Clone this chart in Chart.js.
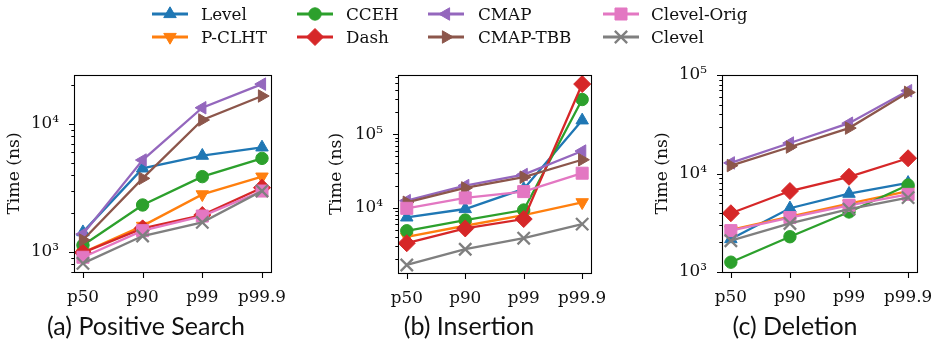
<!DOCTYPE html>
<html>
<head>
<meta charset="utf-8">
<script src="https://cdn.jsdelivr.net/npm/chart.js@4.4.1/dist/chart.umd.min.js"></script>
<style>
  html, body { margin:0; padding:0; background:#fff; }
  body { width:941px; height:347px; position:relative; overflow:hidden; }
  canvas.panel { position:absolute; top:0; }
  .cap { position:absolute; top:310px; font-family:Lato, "Open Sans", sans-serif; font-size:25px; line-height:30px; color:#111; white-space:nowrap; transform:translateX(-50%); }
  .lg { position:absolute; font-family:"DejaVu Serif", serif; font-size:16.8px; line-height:20px; color:#111; white-space:nowrap; }
  canvas.mk { position:absolute; }
</style>
</head>
<body>
<canvas id="c1" class="panel" width="295" height="347" style="left:0px"></canvas>
<canvas id="c2" class="panel" width="310" height="347" style="left:305px"></canvas>
<canvas id="c3" class="panel" width="321" height="347" style="left:620px"></canvas>
<div class="cap" style="left:146px">(a) Positive Search</div>
<div class="cap" style="left:469px">(b) Insertion</div>
<div class="cap" style="left:795px">(c) Deletion</div>
<div id="legend"></div>
<script>
// ---------- data ----------
const categories = ['p50', 'p90', 'p99', 'p99.9'];
const seriesNames = ['Level', 'P-CLHT', 'CCEH', 'Dash', 'CMAP', 'CMAP-TBB', 'Clevel-Orig', 'Clevel'];
const panelTitles = ['(a) Positive Search', '(b) Insertion', '(c) Deletion'];
const yAxisTitle = 'Time (ns)';

// (a) Positive Search
const searchLevel      = [1430, 4500, 5660, 6570];
const searchPCLHT      = [990, 1600, 2820, 3880];
const searchCCEH       = [1130, 2330, 3880, 5390];
const searchDash       = [990, 1530, 1945, 3180];
const searchCMAP       = [1380, 5230, 13400, 20500];
const searchCMAPTBB    = [1240, 3760, 10750, 16550];
const searchClevelOrig = [910, 1468, 1910, 2995];
const searchClevel     = [815, 1333, 1705, 3000];

// (b) Insertion
const insertLevel      = [7370, 9590, 18000, 155000];
const insertPCLHT      = [4010, 5670, 7930, 11830];
const insertCCEH       = [4840, 6780, 9290, 298000];
const insertDash       = [3280, 5210, 7000, 484000];
const insertCMAP       = [12470, 20000, 28300, 59100];
const insertCMAPTBB    = [11830, 18600, 26000, 45000];
const insertClevelOrig = [9800, 13560, 16560, 29500];
const insertClevel     = [1656, 2715, 3840, 5970];

// (c) Deletion
const deleteLevel      = [2160, 4440, 6240, 8050];
const deletePCLHT      = [2680, 3650, 4940, 6640];
const deleteCCEH       = [1258, 2280, 4070, 7630];
const deleteDash       = [3950, 6640, 9260, 14280];
const deleteCMAP       = [12810, 20400, 32400, 69200];
const deleteCMAPTBB    = [12040, 18570, 28900, 66600];
const deleteClevelOrig = [2630, 3570, 4760, 6140];
const deleteClevel     = [2080, 3110, 4340, 5690];

// ---------- styles ----------
const colors = ['#1f77b4', '#ff7f0e', '#2ca02c', '#d62728', '#9467bd', '#8c564b', '#e377c2', '#7f7f7f'];
const markers = [
  {pointStyle:'triangle', rotation:0,   radius:7.2, borderWidth:1},
  {pointStyle:'triangle', rotation:180, radius:7.2, borderWidth:1},
  {pointStyle:'circle',   rotation:0,   radius:6.2, borderWidth:1},
  {pointStyle:'rectRot',  rotation:0,   radius:8.5, borderWidth:1},
  {pointStyle:'triangle', rotation:270, radius:7.2, borderWidth:1},
  {pointStyle:'triangle', rotation:90,  radius:7.2, borderWidth:1},
  {pointStyle:'rect',     rotation:0,   radius:8.5, borderWidth:1},
  {pointStyle:'crossRot', rotation:0,   radius:8.7, borderWidth:2.3}
];
const LINE_W = 2.3;
const SUP = {'0':'⁰','1':'¹','2':'²','3':'³','4':'⁴','5':'⁵','6':'⁶','7':'⁷','8':'⁸','9':'⁹','-':'⁻'};
const tickFont = {family:'DejaVu Serif', size:16.8};
const titleFont = {family:'DejaVu Serif', size:17.2};

Chart.defaults.color = '#111';
Chart.defaults.font.family = 'DejaVu Serif';

const framePlugin = {
  id: 'frame',
  afterDraw(chart) {
    const {ctx, chartArea: a} = chart;
    const x = chart.scales.x, y = chart.scales.y;
    ctx.save();
    ctx.strokeStyle = '#000';
    ctx.lineWidth = 1.1;
    ctx.strokeRect(Math.round(a.left) + 0.5, Math.round(a.top) + 0.5,
                   Math.round(a.right) - Math.round(a.left), Math.round(a.bottom) - Math.round(a.top));
    ctx.beginPath();
    x.ticks.forEach(t => {
      const px = Math.round(x.getPixelForValue(t.value)) + 0.5;
      ctx.moveTo(px, Math.round(a.bottom) + 0.5);
      ctx.lineTo(px, Math.round(a.bottom) + 6);
    });
    const e0 = Math.floor(Math.log10(y.min)), e1 = Math.ceil(Math.log10(y.max));
    for (let e = e0; e <= e1; e++) {
      for (let m = 1; m <= 9; m++) {
        const v = m * Math.pow(10, e);
        if (v < y.min * 0.9999 || v > y.max * 1.0001) continue;
        const py = Math.round(y.getPixelForValue(v)) + 0.5;
        const len = (m === 1) ? 5.5 : 3.2;
        ctx.moveTo(Math.round(a.left) + 0.5, py);
        ctx.lineTo(Math.round(a.left) + 0.5 - len, py);
      }
    }
    ctx.stroke();
    ctx.restore();
  }
};

function makePanel(id, seriesData, yMin, yMax, pad, yWidth) {
  const datasets = seriesData.map((vals, i) => ({
    label: seriesNames[i],
    data: vals.map((v, k) => ({x: k, y: v})),
    borderColor: colors[i],
    backgroundColor: colors[i],
    borderWidth: LINE_W,
    pointStyle: markers[i].pointStyle,
    pointRotation: markers[i].rotation,
    pointRadius: markers[i].radius,
    pointHoverRadius: markers[i].radius,
    pointBorderWidth: markers[i].borderWidth,
    pointBackgroundColor: colors[i],
    pointBorderColor: colors[i],
    tension: 0,
    order: seriesData.length - i
  }));
  return new Chart(document.getElementById(id), {
    type: 'line',
    data: {datasets},
    plugins: [framePlugin],
    options: {
      responsive: false,
      animation: false,
      devicePixelRatio: 1,
      layout: {padding: pad},
      plugins: {legend: {display: false}, tooltip: {enabled: false}, title: {display: false}},
      scales: {
        x: {
          type: 'linear', min: -0.15, max: categories.length - 1 + 0.15,
          grid: {display: false}, border: {display: false},
          afterBuildTicks: s => { s.ticks = categories.map((c, k) => ({value: k})); },
          ticks: {callback: v => categories[v], font: tickFont, padding: 8, maxRotation: 0, autoSkip: false, color: '#111'},
          afterFit: s => { s.height = 35; }
        },
        y: {
          type: 'logarithmic', min: yMin, max: yMax, bounds: 'data',
          grid: {display: false}, border: {display: false},
          afterBuildTicks: s => {
            const out = [];
            for (let e = Math.floor(Math.log10(yMin)); e <= Math.ceil(Math.log10(yMax)); e++) {
              const v = Math.pow(10, e);
              if (v >= yMin * 0.9999 && v <= yMax * 1.0001) out.push({value: v});
            }
            s.ticks = out;
          },
          ticks: {
            callback: v => '10' + String(Math.round(Math.log10(v))).split('').map(c => SUP[c]).join(''),
            font: tickFont, padding: 7, autoSkip: false, color: '#111'
          },
          title: {display: true, text: yAxisTitle, font: titleFont, color: '#111', padding: {top: 4, bottom: 0}},
          afterFit: s => { s.width = yWidth; }
        }
      }
    }
  });
}

makePanel('c1',
  [searchLevel, searchPCLHT, searchCCEH, searchDash, searchCMAP, searchCMAPTBB, searchClevelOrig, searchClevel],
  698, 24150, {left: 0, right: 21, top: 75, bottom: 40}, 74);
makePanel('c2',
  [insertLevel, insertPCLHT, insertCCEH, insertDash, insertCMAP, insertCMAPTBB, insertClevelOrig, insertClevel],
  1287, 643000, {left: 17, right: 17, top: 75, bottom: 39}, 76);
makePanel('c3',
  [deleteLevel, deletePCLHT, deleteCCEH, deleteDash, deleteCMAP, deleteCMAPTBB, deleteClevelOrig, deleteClevel],
  1000, 100000, {left: 28, right: 19, top: 75, bottom: 40}, 74);

// ---------- legend ----------
const legendLineX = [152, 297, 428, 603];
const legendTextX = [201, 346, 478, 651];
const legendRowY = [14, 37];
const lg = document.getElementById('legend');
seriesNames.forEach((name, i) => {
  const col = Math.floor(i / 2), row = i % 2;
  const cv = document.createElement('canvas');
  cv.className = 'mk';
  cv.width = 44; cv.height = 24;
  cv.style.left = (legendLineX[col] - 4) + 'px';
  cv.style.top = (legendRowY[row] - 12) + 'px';
  lg.appendChild(cv);
  const ctx = cv.getContext('2d');
  ctx.strokeStyle = colors[i];
  ctx.fillStyle = colors[i];
  ctx.lineWidth = 2.8;
  ctx.beginPath(); ctx.moveTo(4, 12); ctx.lineTo(40, 12); ctx.stroke();
  const m = markers[i];
  ctx.lineWidth = m.borderWidth;
  if (Chart.helpers && Chart.helpers.drawPoint) {
    Chart.helpers.drawPoint(ctx, {pointStyle: m.pointStyle, rotation: m.rotation, radius: m.radius, borderWidth: m.borderWidth}, 22, 12);
  }
  const t = document.createElement('div');
  t.className = 'lg';
  t.textContent = name;
  t.style.left = legendTextX[col] + 'px';
  t.style.top = (legendRowY[row] - 10) + 'px';
  lg.appendChild(t);
});
</script>
</body>
</html>
